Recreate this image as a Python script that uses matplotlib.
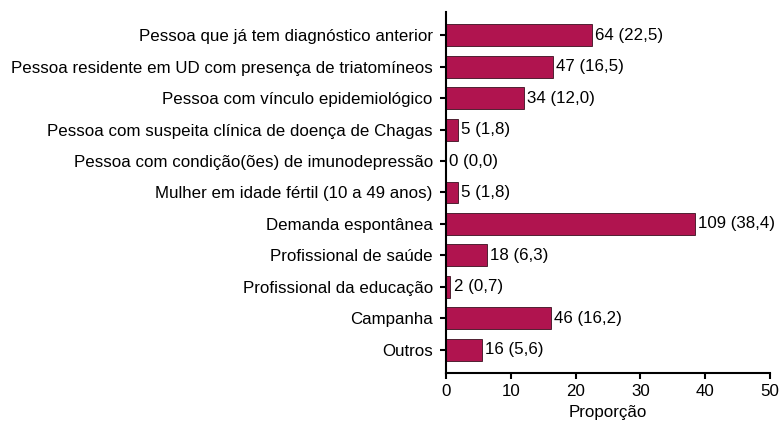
import matplotlib
matplotlib.use("Agg")
import matplotlib.pyplot as plt

plt.rcParams['font.family'] = ['Liberation Sans', 'DejaVu Sans']

categories = [
    "Pessoa que já tem diagnóstico anterior",
    "Pessoa residente em UD com presença de triatomíneos",
    "Pessoa com vínculo epidemiológico",
    "Pessoa com suspeita clínica de doença de Chagas",
    "Pessoa com condição(ões) de imunodepressão",
    "Mulher em idade fértil (10 a 49 anos)",
    "Demanda espontânea",
    "Profissional de saúde",
    "Profissional da educação",
    "Campanha",
    "Outros",
]
counts = [64, 47, 34, 5, 0, 5, 109, 18, 2, 46, 16]
percents = [22.5, 16.5, 12.0, 1.8, 0.0, 1.8, 38.4, 6.3, 0.7, 16.2, 5.6]
xticks = [0, 10, 20, 30, 40, 50]
xlabel = "Proporção"

FS = 12.2

fig = plt.figure(figsize=(7.81, 4.24), dpi=100)
ax = fig.add_axes([0.571, 0.120, 0.415, 0.852])

y = list(range(len(categories)))
ax.barh(y, percents, height=0.7, color="#B0144F", edgecolor="#3a1020", linewidth=0.6)
for yi, c, p in zip(y, counts, percents):
    ax.text(p + 0.5, yi, f"{c} ({p:.1f})".replace(".", ","), va="center", ha="left", fontsize=FS)

ax.set_yticks(y)
ax.set_yticklabels(categories, fontsize=FS)
ax.set_ylim(len(categories) - 0.25, -0.75)
ax.set_xlim(0, 50)
ax.set_xticks(xticks)
ax.set_xticklabels([str(t) for t in xticks], fontsize=FS)
ax.set_xlabel(xlabel, fontsize=FS, labelpad=5)
for s in ["top", "right"]:
    ax.spines[s].set_visible(False)
for s in ["left", "bottom"]:
    ax.spines[s].set_linewidth(1.5)
ax.tick_params(axis="both", width=1.5, length=4.5, direction="out")
ax.tick_params(axis="y", pad=5)
ax.tick_params(axis="x", pad=3)

fig.savefig("out.png", dpi=100)
